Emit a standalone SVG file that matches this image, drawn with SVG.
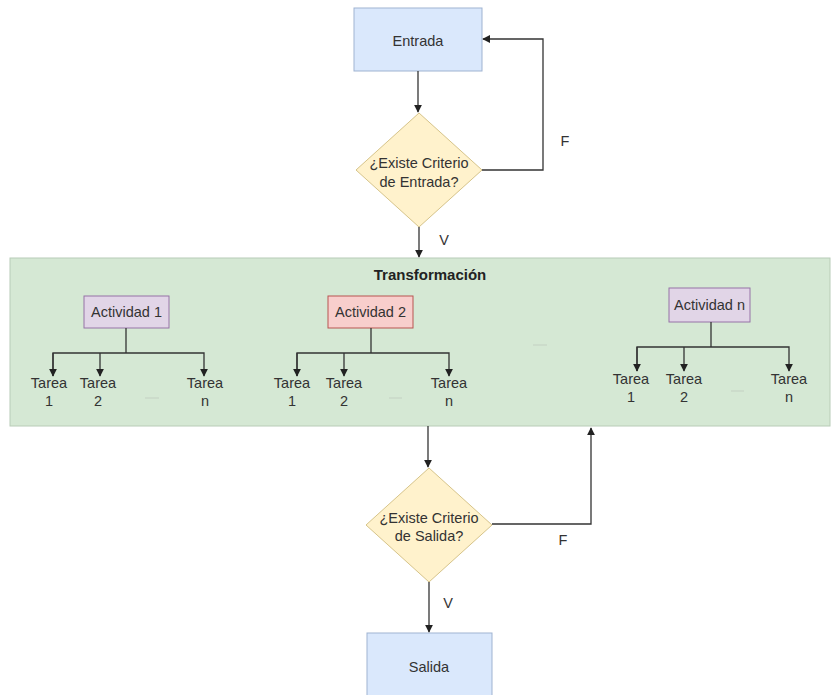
<svg xmlns="http://www.w3.org/2000/svg" width="838" height="695" viewBox="0 0 838 695">
<defs>
<marker id="ah" viewBox="0 0 10 10" refX="9" refY="5" markerWidth="8" markerHeight="8" orient="auto" markerUnits="userSpaceOnUse">
<path d="M0,0 L10,5 L0,10 z" fill="#222"/>
</marker>
<style>
text{font-family:"Liberation Sans",Arial,sans-serif;font-size:14.5px;fill:#333;text-anchor:middle}
.t{font-weight:bold;font-size:15px;fill:#222}
.c{fill:none;stroke:#333;stroke-width:1.3}
.blue{fill:#dae8fc;stroke:#9fb3d1;stroke-width:1}
.dia{fill:#fff2cc;stroke:#d6c48a;stroke-width:1}
.pur{fill:#e1d5e7;stroke:#9673a6;stroke-width:1}
.red{fill:#f8cecc;stroke:#b85450;stroke-width:1}
.dots{stroke:#c8d8c8;stroke-width:1.5}
</style>
</defs>
<rect width="838" height="695" fill="#ffffff"/>

<g id="transformacion">
<rect x="10" y="258" width="820" height="168" fill="#d5e8d4" stroke="#b8ccb7" stroke-width="1"/>
<text class="t" x="430" y="280">Transformación</text>
<line class="dots" x1="145" y1="398" x2="159" y2="398"/>
<line class="dots" x1="389" y1="398" x2="402" y2="398"/>
<line class="dots" x1="533" y1="345" x2="547" y2="345"/>
<line class="dots" x1="731" y1="391" x2="744" y2="391"/>
</g>

<g id="entrada">
<rect class="blue" x="354" y="8" width="128" height="63"/>
<text x="418" y="46">Entrada</text>
</g>

<g id="criterio-entrada">
<polygon class="dia" points="419,113 482,170 419,227 356,170"/>
<text x="419" y="168">¿Existe Criterio</text>
<text x="419" y="187">de Entrada?</text>
</g>

<g id="actividad1">
<rect class="pur" x="84" y="296" width="85" height="32"/>
<text x="126.5" y="317">Actividad 1</text>
</g>
<g id="a1-tarea1"><text x="49" y="388">Tarea</text><text x="49" y="406">1</text></g>
<g id="a1-tarea2"><text x="98" y="388">Tarea</text><text x="98" y="406">2</text></g>
<g id="a1-tarean"><text x="205" y="388">Tarea</text><text x="205" y="406">n</text></g>

<g id="actividad2">
<rect class="red" x="328" y="296" width="85" height="32"/>
<text x="370.5" y="317">Actividad 2</text>
</g>
<g id="a2-tarea1"><text x="292" y="388">Tarea</text><text x="292" y="406">1</text></g>
<g id="a2-tarea2"><text x="344" y="388">Tarea</text><text x="344" y="406">2</text></g>
<g id="a2-tarean"><text x="449" y="388">Tarea</text><text x="449" y="406">n</text></g>

<g id="actividadn">
<rect class="pur" x="669" y="288" width="81" height="34"/>
<text x="709.5" y="310">Actividad n</text>
</g>
<g id="an-tarea1"><text x="631" y="384">Tarea</text><text x="631" y="402">1</text></g>
<g id="an-tarea2"><text x="684" y="384">Tarea</text><text x="684" y="402">2</text></g>
<g id="an-tarean"><text x="789" y="384">Tarea</text><text x="789" y="402">n</text></g>

<g id="criterio-salida">
<polygon class="dia" points="429,468 492,525 429,582 366,525"/>
<text x="429" y="523">¿Existe Criterio</text>
<text x="429" y="541">de Salida?</text>
</g>

<g id="salida">
<rect class="blue" x="367" y="633" width="125" height="70"/>
<text x="429" y="672">Salida</text>
</g>

<g id="connectors">
<line class="c" x1="418" y1="71" x2="418" y2="112" marker-end="url(#ah)"/>
<polyline class="c" points="482,170 543,170 543,39 483,39" marker-end="url(#ah)"/>
<text x="565" y="146">F</text>
<line class="c" x1="419" y1="227" x2="419" y2="257" marker-end="url(#ah)"/>
<text x="444" y="245">V</text>

<polyline class="c" points="126,328 126,353"/>
<polyline class="c" points="53,376 53,353 204,353 204,376" marker-end="url(#ah)"/>
<line class="c" x1="53" y1="353" x2="53" y2="376" marker-end="url(#ah)"/>
<line class="c" x1="100" y1="353" x2="100" y2="376" marker-end="url(#ah)"/>

<polyline class="c" points="371,328 371,353"/>
<polyline class="c" points="297,376 297,353 449,353 449,376" marker-end="url(#ah)"/>
<line class="c" x1="297" y1="353" x2="297" y2="376" marker-end="url(#ah)"/>
<line class="c" x1="344" y1="353" x2="344" y2="376" marker-end="url(#ah)"/>

<polyline class="c" points="711,322 711,347"/>
<polyline class="c" points="637,371 637,347 789,347 789,371" marker-end="url(#ah)"/>
<line class="c" x1="637" y1="347" x2="637" y2="371" marker-end="url(#ah)"/>
<line class="c" x1="684" y1="347" x2="684" y2="371" marker-end="url(#ah)"/>

<line class="c" x1="428" y1="426" x2="428" y2="467" marker-end="url(#ah)"/>
<polyline class="c" points="492,524 591,524 591,428" marker-end="url(#ah)"/>
<text x="563" y="545">F</text>
<line class="c" x1="429" y1="582" x2="429" y2="632" marker-end="url(#ah)"/>
<text x="448" y="608">V</text>
</g>
</svg>
